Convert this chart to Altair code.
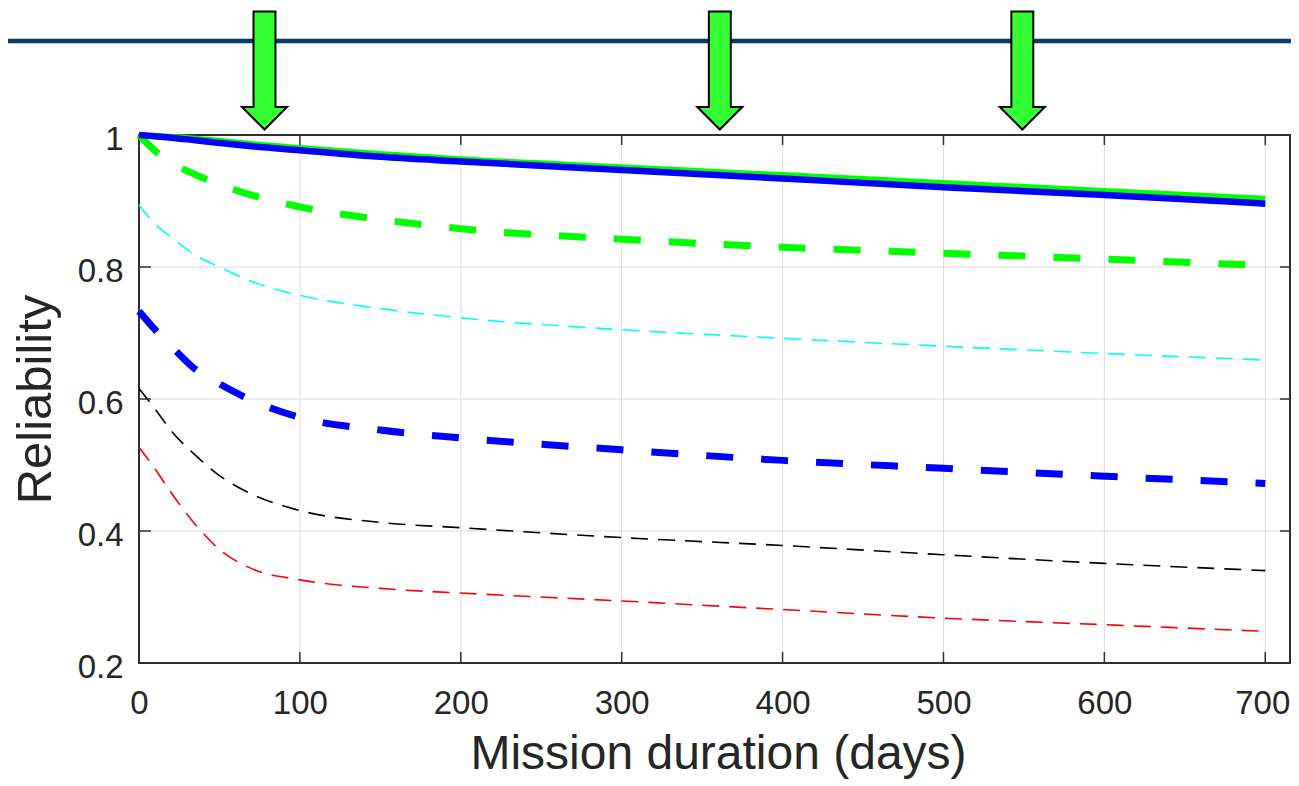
import altair as alt
import pandas as pd

# ---------------- data ----------------
days = [0, 10, 20, 35, 50, 70, 100, 150, 200, 300, 400, 500, 600, 700]

green_solid = [1.000, 0.999, 0.998, 0.995, 0.992, 0.987, 0.981, 0.972, 0.964, 0.952, 0.940, 0.928, 0.916, 0.904]
blue_solid = [1.000, 0.998, 0.996, 0.992, 0.988, 0.983, 0.977, 0.967, 0.960, 0.947, 0.934, 0.921, 0.909, 0.896]
green_dashed = [1.000, 0.976, 0.958, 0.940, 0.925, 0.909, 0.891, 0.872, 0.858, 0.842, 0.830, 0.821, 0.812, 0.802]
cyan_dashed = [0.894, 0.865, 0.845, 0.818, 0.800, 0.778, 0.757, 0.737, 0.723, 0.705, 0.692, 0.680, 0.669, 0.659]
blue_dashed = [0.733, 0.705, 0.680, 0.645, 0.623, 0.598, 0.572, 0.553, 0.541, 0.523, 0.507, 0.495, 0.483, 0.472]
black_dashed = [0.616, 0.585, 0.552, 0.515, 0.484, 0.456, 0.431, 0.413, 0.405, 0.390, 0.378, 0.364, 0.351, 0.340]
red_dashed = [0.527, 0.494, 0.458, 0.410, 0.372, 0.343, 0.326, 0.313, 0.306, 0.294, 0.281, 0.268, 0.258, 0.248]

arrow_days = [78, 361, 549]

x_ticks = [0, 100, 200, 300, 400, 500, 600, 700]
y_ticks = [0.2, 0.4, 0.6, 0.8, 1.0]

# ---------------- styles ----------------
W, H = 1152, 528
FONT = "Liberation Sans"
TXT = "#262626"
BOX = "#303030"
GRID = "#dcdcdc"

series = [
    ("red", red_dashed, "#ff0000", 1.6, [17, 10]),
    ("black", black_dashed, "#000000", 1.6, [17, 10]),
    ("cyan", cyan_dashed, "#00ffff", 1.6, [17, 10]),
    ("blue dashed", blue_dashed, "#0000ff", 7, [27, 28]),
    ("green dashed", green_dashed, "#00ff00", 7, [27, 28]),
    ("green solid", green_solid, "#00ff00", 5, None),
    ("blue solid", blue_solid, "#0000ff", 6.5, None),
]

xs = alt.Scale(domain=[0, 716], nice=False, zero=False)
ys = alt.Scale(domain=[0.2, 1.0], nice=False, zero=False)

x_axis = alt.Axis(
    values=x_ticks, tickSize=0, domain=False, grid=False,
    labelFont=FONT, labelFontSize=33, labelColor=TXT, labelPadding=24, labelBaseline="top",
    labelOffset={"condition": {"test": "datum.value >= 700", "value": -3}, "value": 0},
    labelFlush=False, titleFont=FONT, titleFontSize=48,
    titleFontWeight="normal", titleColor=TXT, titleBaseline="alphabetic", titleY=105,
    titleX=579, titleAlign="center",
)
y_axis = alt.Axis(
    values=y_ticks, tickSize=0, domain=False, grid=False,
    labelFont=FONT, labelFontSize=33, labelColor=TXT, labelPadding=16, labelBaseline="alphabetic",
    labelOffset=14, labelFlush=False, format=".1~f", titleFont=FONT,
    titleFontSize=49, titleFontWeight="normal", titleColor=TXT, titleBaseline="alphabetic",
    titleX=-89, titleY=H / 2, titleAlign="center", titleAngle=270,
)
XT = "Mission duration (days)"
YT = "Reliability"


def X(field):
    return alt.X(field, scale=xs, axis=x_axis, title=XT)


def Y(field):
    return alt.Y(field, scale=ys, axis=y_axis, title=YT)


layers = []
xt = pd.DataFrame({"d": x_ticks})
yt = pd.DataFrame({"r": y_ticks})
one = pd.DataFrame({"k": [0]})

# grid
layers.append(alt.Chart(xt).mark_rule(color=GRID, strokeWidth=1).encode(
    x=X("d:Q"), y=alt.value(0), y2=alt.value(H)))
layers.append(alt.Chart(yt).mark_rule(color=GRID, strokeWidth=1).encode(
    y=Y("r:Q"), x=alt.value(0), x2=alt.value(W)))

# box
box_kw = dict(color=BOX, strokeWidth=2)
layers.append(alt.Chart(one).mark_rule(**box_kw).encode(x=alt.value(-1), x2=alt.value(W + 1), y=alt.value(0)))
layers.append(alt.Chart(one).mark_rule(**box_kw).encode(x=alt.value(-1), x2=alt.value(W + 1), y=alt.value(H)))
layers.append(alt.Chart(one).mark_rule(**box_kw).encode(y=alt.value(-1), y2=alt.value(H + 1), x=alt.value(0)))
layers.append(alt.Chart(one).mark_rule(**box_kw).encode(y=alt.value(-1), y2=alt.value(H + 1), x=alt.value(W - 1)))

# inner ticks (MATLAB style)
tick_kw = dict(color=BOX, strokeWidth=1.5)
layers.append(alt.Chart(xt).mark_rule(**tick_kw).encode(x=X("d:Q"), y=alt.value(H), y2=alt.value(H - 11)))
layers.append(alt.Chart(xt).mark_rule(**tick_kw).encode(x=X("d:Q"), y=alt.value(0), y2=alt.value(10)))
layers.append(alt.Chart(yt).mark_rule(**tick_kw).encode(y=Y("r:Q"), x=alt.value(0), x2=alt.value(12)))
layers.append(alt.Chart(yt).mark_rule(**tick_kw).encode(y=Y("r:Q"), x=alt.value(W), x2=alt.value(W - 11)))

# curves
for name, vals, color, width, dash in series:
    df = pd.DataFrame({"d": days, "r": vals})
    kw = dict(color=color, strokeWidth=width, strokeCap="butt", strokeJoin="round", interpolate="monotone")
    if dash:
        kw["strokeDash"] = dash
    layers.append(alt.Chart(df).mark_line(**kw).encode(x=X("d:Q"), y=Y("r:Q")))

# navy banner line across top
layers.append(alt.Chart(one).mark_rule(color="#0b3a6b", strokeWidth=4.5).encode(
    x=alt.value(-131), x2=alt.value(W + 1), y=alt.value(-94)))

# green arrows
arrow_path = "M -0.186 -1 L 0.186 -1 L 0.186 0.62 L 0.381 0.62 L 0 1 L -0.381 0.62 L -0.186 0.62 Z"
layers.append(alt.Chart(pd.DataFrame({"d": arrow_days})).mark_point(
    shape=arrow_path, size=118 * 118, filled=True, fill="#33ff33", stroke="#000000",
    strokeWidth=2, opacity=1, fillOpacity=1, strokeOpacity=1, strokeJoin="miter").encode(
    x=X("d:Q"), y=alt.value(-64.5)))

chart = alt.layer(*layers).properties(
    width=W, height=H,
    autosize=alt.AutoSizeParams(type="none"),
    padding={"left": 131, "top": 127, "right": 0, "bottom": 123},
).configure_view(strokeWidth=0).configure(background="white")

chart.save("out.html", embed_options={"renderer": "svg", "actions": False})
